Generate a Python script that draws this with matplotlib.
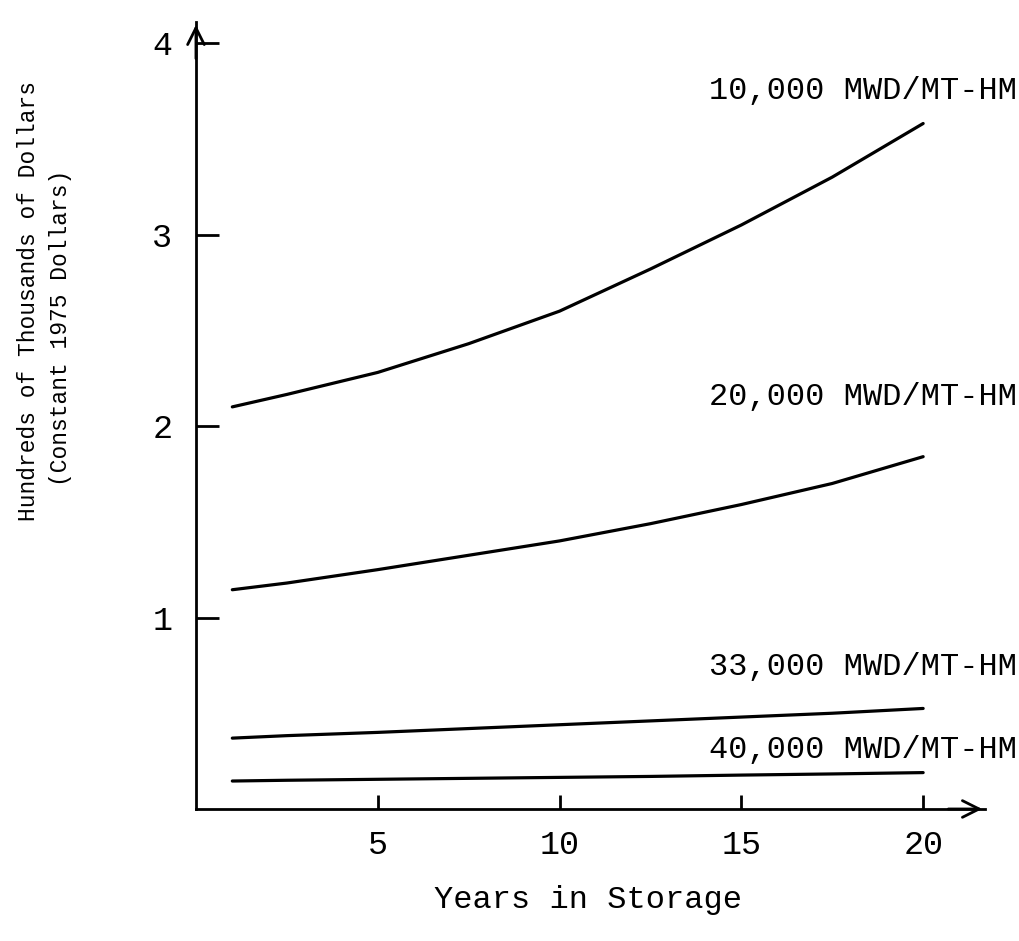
import matplotlib
matplotlib.use('Agg')
import matplotlib.pyplot as plt

plt.rcParams['font.family'] = ['Liberation Mono', 'DejaVu Sans Mono']

# values (hundreds of thousands of 1975 dollars)
years = [1, 2.5, 5, 7.5, 10, 12.5, 15, 17.5, 20]
cost_10k = [2.10, 2.165, 2.28, 2.43, 2.60, 2.82, 3.05, 3.30, 3.58]
cost_20k = [1.145, 1.18, 1.25, 1.325, 1.40, 1.49, 1.59, 1.70, 1.84]
cost_33k = [0.37, 0.383, 0.40, 0.42, 0.44, 0.46, 0.48, 0.50, 0.525]
cost_40k = [0.146, 0.15, 0.155, 0.16, 0.165, 0.17, 0.177, 0.183, 0.19]

burnup_labels = ['10,000 MWD/MT-HM', '20,000 MWD/MT-HM',
                 '33,000 MWD/MT-HM', '40,000 MWD/MT-HM']
label_y = [3.75, 2.15, 0.74, 0.31]

x_ticks = [5, 10, 15, 20]
y_ticks = [1, 2, 3, 4]

fig = plt.figure(figsize=(10.19, 9.41), dpi=100)
ax = fig.add_axes([0.1923, 0.1403, 0.7743, 0.8363])

for cost in [cost_10k, cost_20k, cost_33k, cost_40k]:
    ax.plot(years, cost, color='black', lw=2.3, solid_capstyle='round',
            solid_joinstyle='round')

for txt, yy in zip(burnup_labels, label_y):
    ax.text(14.1, yy, txt, ha='left', va='center', fontsize=23)

ax.set_xlim(0, 21.7)
ax.set_ylim(0, 4.11)

# only the two hand drawn axes with arrow heads
ax.spines['top'].set_visible(False)
ax.spines['right'].set_visible(False)
ax.spines['left'].set_linewidth(2)
ax.spines['bottom'].set_linewidth(2)
ax.annotate('', xy=(0, 1.0), xycoords='axes fraction', xytext=(0, 0.95),
            arrowprops=dict(arrowstyle='->', lw=2, color='black', mutation_scale=30))
ax.annotate('', xy=(1.0, 0), xycoords='axes fraction', xytext=(0.95, 0),
            arrowprops=dict(arrowstyle='->', lw=2, color='black', mutation_scale=30))

ax.set_xticks(x_ticks)
ax.set_xticklabels([str(v) for v in x_ticks])
ax.set_yticks(y_ticks)
ax.set_yticklabels([str(v) for v in y_ticks])
ax.tick_params(axis='x', direction='in', length=10, width=2, pad=15, labelsize=24)
ax.tick_params(axis='y', direction='in', length=16.5, width=2, pad=17, labelsize=24)

fig.text(0.0275, 0.68, 'Hundreds of Thousands of Dollars', rotation=90,
         ha='center', va='center', fontsize=16.5)
fig.text(0.059, 0.652, '(Constant 1975 Dollars)', rotation=90,
         ha='center', va='center', fontsize=16.5)
fig.text(0.577, 0.0435, 'Years in Storage', ha='center', va='center', fontsize=23)

fig.savefig('out.png', dpi=100)
